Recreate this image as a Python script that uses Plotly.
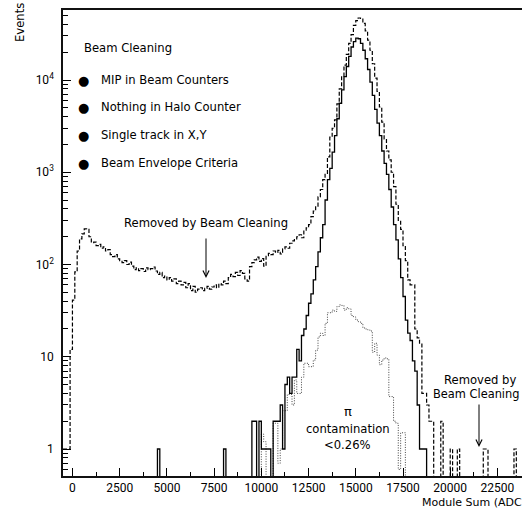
import numpy as np
import plotly.graph_objects as go

# ---------------- data (bin contents, 125 ADC bins starting at -500) ----------------
BIN_EDGE0 = -500
BIN_WIDTH = 125
N_BINS = 200

before_cleaning = [
    1, 1, 1, 12, 41, 83, 140, 190, 215, 243,
    240, 200, 172, 175, 160, 165, 150, 155, 140, 145,
    128, 122, 128, 115, 110, 105, 110, 100, 106, 96,
    88, 92, 86, 90, 84, 92, 88, 90, 94, 85,
    78, 82, 72, 75, 68, 72, 66, 70, 62, 66,
    60, 64, 56, 62, 52, 58, 50, 54, 56, 52,
    55, 58, 54, 57, 60, 56, 62, 60, 66, 62,
    72, 78, 74, 82, 76, 86, 80, 70, 66, 95,
    105, 112, 120, 108, 116, 96, 125, 132, 128, 140,
    135, 142, 130, 148, 155, 150, 170, 180, 190, 200,
    210, 195, 235, 250, 270, 330, 380, 430, 540, 650,
    830, 950, 1470, 2400, 3000, 3700, 5500, 8000, 11000, 14500,
    19000, 25000, 31000, 39000, 44000, 47000, 46500, 41000, 34000, 27000,
    21000, 15000, 10500, 7500, 5100, 3500, 2300, 1700, 1360, 1000,
    700, 450, 300, 240, 160, 110, 68, 60, 60, 20,
    16, 14, 4, 4, 3, 2, 2, 0, 0, 0,
    2, 0, 0, 0, 1, 0, 0, 1, 0, 0,
    0, 0, 0, 0, 0, 0, 0, 0, 1, 1,
    0, 0, 0, 0, 0, 0, 0, 0, 0, 0,
    0, 1,
]

after_cleaning = [0] * 40 + [1] + [0] * 27 + [1] + [0] * 11 + [
    2, 2, 0, 2, 1, 1, 1, 1, 0, 2,
    2, 2, 3, 1, 5, 6, 4, 6, 6, 12,
    9, 17, 20, 28, 38, 48, 68, 95, 137, 195,
    270, 500, 830, 1100, 1650, 2500, 3800, 5600, 7800, 10900,
    14000, 18000, 22800, 26000, 28500, 28000, 25000, 21000, 17000, 13000,
    9500, 6800, 4800, 3400, 2500, 1700, 1250, 950, 650, 420,
    270, 185, 115, 72, 45, 25, 18, 15, 9, 7,
    3, 1, 1, 1,
]

pi_contamination = [0] * 84 + [
    1.45, 1.2, 0, 0, 0, 1.9, 1.9, 0.7, 1.0, 2.6,
    2.6, 3.9, 3.9, 3.0, 5.6, 4.0, 4.0, 6.0, 8.5, 8.5,
    7.8, 7.8, 9.2, 11.8, 16.4, 18, 17, 23, 30, 30,
    32, 31, 35, 36.5, 36, 32, 34, 33, 28, 27,
    25, 24, 23, 20.5, 20, 19.6, 19, 11.2, 14, 10.4,
    8.2, 9.2, 9.7, 9.5, 3.7, 3.7, 2, 1.9, 0.6, 1.5,
    1.5,
]

x_tick_values = [0, 2500, 5000, 7500, 10000, 12500, 15000, 17500, 20000, 22500]
x_tick_labels = ["0", "2500", "5000", "7500", "10000", "12500", "15000", "17500", "20000", "22500"]
y_tick_values = [1, 10, 100, 1000, 10000]
y_tick_labels = ["1", "10", "10<sup>2</sup>", "10<sup>3</sup>", "10<sup>4</sup>"]
cuts = ["MIP in Beam Counters", "Nothing in Halo Counter", "Single track in X,Y", "Beam Envelope Criteria"]

# ---------------- layout geometry ----------------
W, H = 522, 509
PL, PR, PT, PB = 63, 522, 10, 476
X_RANGE = [-500, 23800]
Y_RANGE = [-0.2927, 4.7588]


def px(p):
    return (p - PL) / (PR - PL)


def py(p):
    return (PB - p) / (PB - PT)


edges = BIN_EDGE0 + BIN_WIDTH * np.arange(N_BINS + 1)


def step_y(vals):
    v = np.zeros(N_BINS)
    v[: len(vals)] = vals
    v = np.append(v, v[-1])
    return np.where(v > 0, v, 0.05)


fig = go.Figure()
fig.add_trace(go.Scatter(x=edges, y=step_y(pi_contamination), mode="lines", line_shape="hv",
                         line=dict(color="#444", width=1, dash="1px,1.5px"), showlegend=False))
fig.add_trace(go.Scatter(x=edges, y=step_y(before_cleaning), mode="lines", line_shape="hv",
                         line=dict(color="black", width=1.2, dash="4px,2px"), showlegend=False))
fig.add_trace(go.Scatter(x=edges, y=step_y(after_cleaning), mode="lines", line_shape="hv",
                         line=dict(color="black", width=1.3), showlegend=False))

TXT = "DejaVu Sans"
ann = []


def add_text(text, x, y, xanchor="center", size=11.6, **kw):
    ann.append(dict(text=text, x=px(x), y=py(y), xref="paper", yref="paper", showarrow=False,
                    xanchor=xanchor, yanchor="middle", font=dict(family=TXT, size=size, color="black"), **kw))


add_text("Events", 20, 23, textangle=-90)
add_text("Beam Cleaning", 82, 48, xanchor="left")
for i, (t, yy) in enumerate(zip(cuts, [80, 107, 135, 163])):
    add_text("\u25cf", 83, yy, size=13)
    add_text(t, 99, yy, xanchor="left")
add_text("Removed by Beam Cleaning", 206, 223)
add_text("\u03c0", 348, 411, size=13)
add_text("contamination", 348, 429)
add_text("&lt;0.26%", 347, 445)
add_text("Removed by", 480, 380)
add_text("Beam Cleaning", 521, 394, xanchor="right", size=11.4)
add_text("Module Sum (ADC counts)", 420, 502, xanchor="left", size=11)

for (x0, y0, y1) in [(206, 237, 278), (479, 403, 447)]:
    ann.append(dict(x=px(x0), y=py(y1), xref="paper", yref="paper", ax=0, ay=-(y1 - y0),
                    axref="pixel", ayref="pixel", showarrow=True, arrowhead=5, arrowsize=1.2,
                    arrowwidth=1, arrowcolor="black", text=""))

minor_x = [1250 + 2500 * k for k in range(10)]
minor_y = [m * 10 ** d for d in range(-1, 5) for m in range(2, 10) if 0.5 < m * 10 ** d < 57000]

fig.update_layout(
    width=W, height=H,
    margin=dict(l=PL, r=W - PR, t=PT, b=H - PB),
    paper_bgcolor="white", plot_bgcolor="white",
    annotations=ann,
    xaxis=dict(range=X_RANGE, showgrid=False, zeroline=False, showline=True, linecolor="#111",
               linewidth=1.5, mirror=True, ticks="inside", ticklen=8, tickwidth=1, tickcolor="black",
               tickvals=x_tick_values, ticktext=x_tick_labels,
               tickfont=dict(family="Roboto", size=12, color="black"),
               minor=dict(tickvals=minor_x, ticks="inside", ticklen=4, tickcolor="black")),
    yaxis=dict(type="log", range=Y_RANGE, showgrid=False, zeroline=False, showline=True,
               linecolor="#111", linewidth=1.5, mirror=False, ticks="inside", ticklen=8, tickwidth=1,
               tickcolor="black", tickvals=y_tick_values, ticktext=y_tick_labels,
               tickfont=dict(family="Roboto", size=12, color="black"), ticklabelstandoff=5,
               minor=dict(tickvals=minor_y, ticks="inside", ticklen=5, tickcolor="black")),
)

fig.write_html("out.html")
